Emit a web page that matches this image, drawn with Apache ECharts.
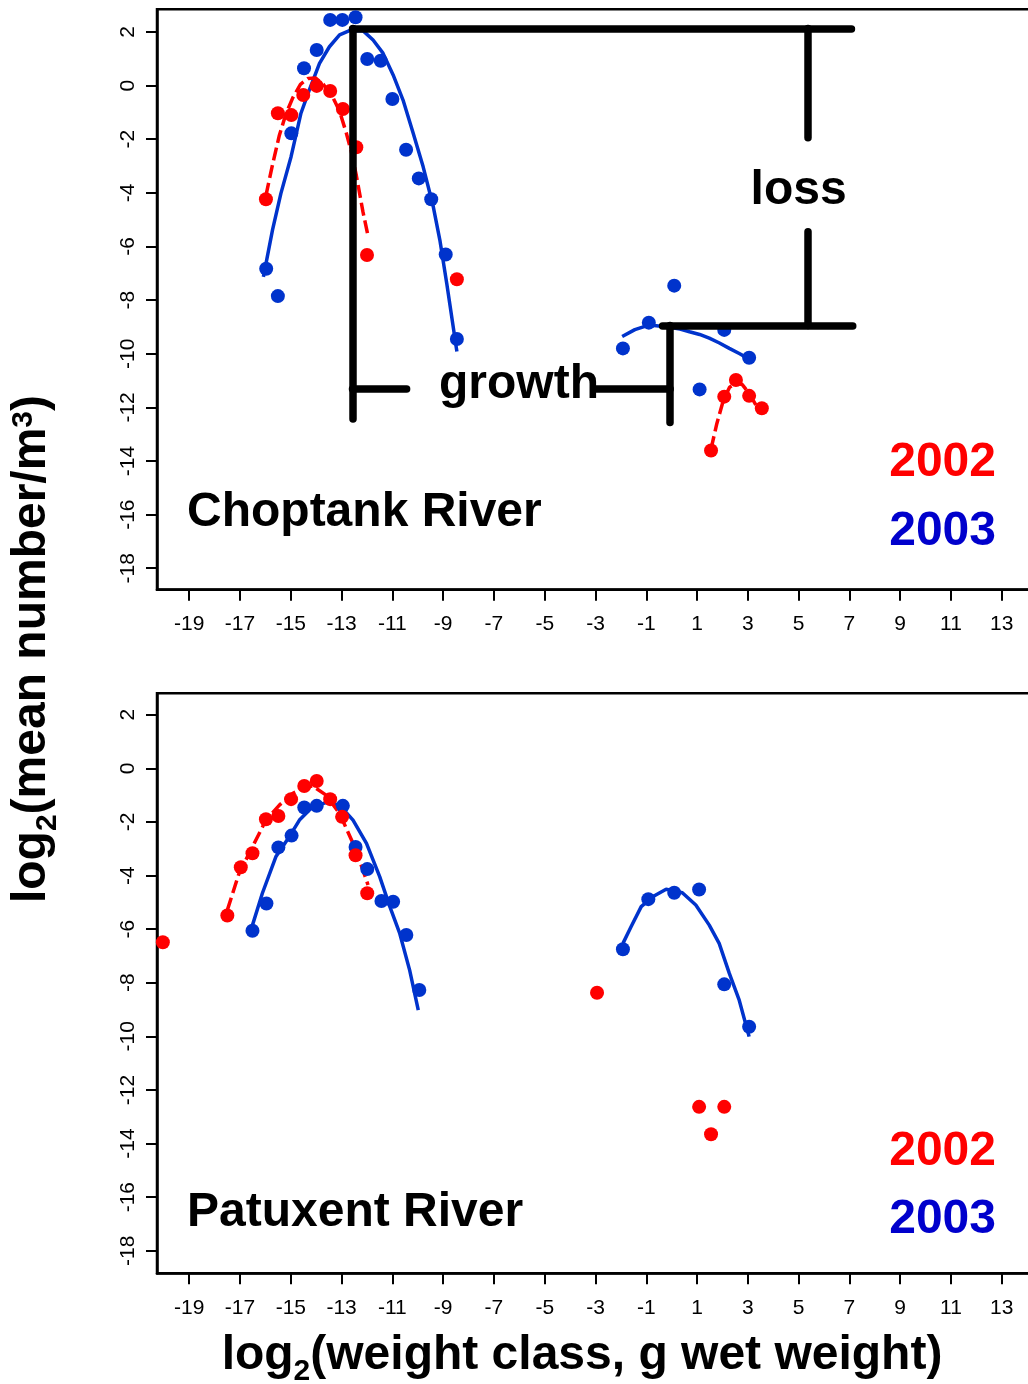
<!DOCTYPE html>
<html><head><meta charset="utf-8">
<script src="https://cdn.jsdelivr.net/npm/echarts@6/dist/echarts.min.js"></script>
<style>html,body{margin:0;padding:0;background:#fff}#c{width:1028px;height:1384px}</style>
</head><body><div id="c"></div>
<script>
// ---------- tick labels ----------
const xTicks = [-19,-17,-15,-13,-11,-9,-7,-5,-3,-1,1,3,5,7,9,11,13];
const yTicks = [-18,-16,-14,-12,-10,-8,-6,-4,-2,0,2];

// ---------- Choptank River (top panel) ----------
const chop2003Pts = [[-15.97,-6.83],[-15.51,-7.85],[-14.98,-1.78],[-14.48,0.65],[-13.98,1.33],[-13.45,2.45],[-12.97,2.45],[-12.45,2.55],[-11.99,0.99],[-11.46,0.93],[-11.0,-0.5],[-10.46,-2.39],[-9.96,-3.46],[-9.47,-4.24],[-8.9,-6.3],[-8.46,-9.45],
  [-1.92,-9.8],[-0.9,-8.84],[0.1,-7.46],[1.1,-11.33],[2.07,-9.11],[3.05,-10.15]];
const chop2003FitA = [[-16.08,-7.13],[-15.72,-5.38],[-15.39,-4.02],[-14.99,-2.65],[-14.6,-1.03],[-14.27,-0.16],[-13.87,0.83],[-13.48,1.45],[-13.08,1.89],[-12.69,2.05],[-12.16,2.05],[-11.76,1.70],[-11.37,1.21],[-10.97,0.40],[-10.58,-0.54],[-10.18,-1.78],[-9.79,-3.02],[-9.39,-4.51],[-9.13,-5.76],[-8.86,-7.37],[-8.46,-9.92]];
const chop2003FitB = [[-1.95,-9.36],[-1.45,-9.1],[-0.9,-8.93],[-0.22,-8.99],[0.33,-9.08],[0.7,-9.18],[1.1,-9.28],[1.48,-9.42],[1.88,-9.6],[2.27,-9.8],[2.68,-10.0],[3.05,-10.2]];
const chop2002Pts = [[-15.98,-4.24],[-15.51,-1.03],[-14.98,-1.1],[-14.51,-0.35],[-13.98,-0.01],[-13.45,-0.2],[-12.95,-0.87],[-12.42,-2.3],[-12.0,-6.32],[-8.46,-7.22],
  [1.55,-13.61],[2.07,-11.6],[2.53,-10.98],[3.05,-11.57],[3.55,-12.03]];
const chop2002FitA = [[-15.98,-4.1],[-15.72,-2.95],[-15.45,-1.85],[-15.19,-1.05],[-14.92,-0.45],[-14.62,0.05],[-14.32,0.27],[-14.02,0.28],[-13.72,0.05],[-13.34,-0.45],[-13.08,-0.95],[-12.82,-1.75],[-12.62,-2.45],[-12.42,-3.35],[-12.16,-4.7],[-11.96,-5.6]];
const chop2002FitB = [[1.55,-13.55],[1.78,-12.6],[2.03,-11.75],[2.28,-11.25],[2.53,-11.1],[2.78,-11.15],[3.03,-11.45],[3.28,-11.85],[3.43,-12.1]];

// ---------- Patuxent River (bottom panel) ----------
const pat2003Pts = [[-16.51,-6.06],[-15.96,-5.04],[-15.49,-2.95],[-14.97,-2.51],[-14.47,-1.46],[-13.98,-1.4],[-12.95,-1.4],[-12.45,-2.93],[-11.99,-3.76],[-11.43,-4.95],[-10.97,-4.98],[-10.45,-6.22],[-9.94,-8.27],
  [-1.92,-6.75],[-0.92,-4.88],[0.1,-4.64],[1.08,-4.52],[2.07,-8.06],[3.05,-9.64]];
const pat2003FitA = [[-16.51,-5.85],[-16.12,-4.66],[-15.59,-3.3],[-15.06,-2.55],[-14.66,-1.93],[-14.14,-1.43],[-13.61,-1.28],[-13.08,-1.37],[-12.55,-1.93],[-12.02,-2.8],[-11.5,-4.04],[-11.1,-5.16],[-10.71,-6.16],[-10.32,-7.53],[-9.98,-9.02]];
const pat2003FitB = [[-1.92,-6.53],[-1.6,-5.91],[-1.2,-5.16],[-0.75,-4.79],[-0.22,-4.51],[0.42,-4.64],[0.95,-5.1],[1.48,-5.85],[1.87,-6.53],[2.27,-7.65],[2.66,-8.65],[3.05,-10.01]];
const pat2002Pts = [[-20.04,-6.49],[-17.5,-5.49],[-16.97,-3.69],[-16.51,-3.17],[-15.98,-1.9],[-15.49,-1.78],[-14.99,-1.15],[-14.47,-0.66],[-13.98,-0.47],[-13.45,-1.15],[-12.98,-1.81],[-12.45,-3.24],[-11.99,-4.66],
  [-2.94,-8.37],[1.08,-12.63],[2.07,-12.63],[1.55,-13.65]];
const pat2002Fit = [[-17.5,-5.29],[-17.04,-3.92],[-16.51,-2.93],[-15.98,-1.93],[-15.45,-1.37],[-14.92,-0.93],[-14.47,-0.73],[-14.14,-0.66],[-13.61,-1.0],[-13.08,-1.68],[-12.55,-2.8],[-12.16,-3.79],[-11.96,-4.35]];

// ---------- growth / loss annotation segments (data coordinates, top panel) ----------
const annotSegments = [
  [[-12.57,2.13],[7.08,2.13]],
  [[-12.57,2.13],[-12.57,-12.43]],
  [[-12.57,-11.29],[-10.44,-11.29]],
  [[-2.98,-11.32],[-0.06,-11.32]],
  [[-0.06,-8.95],[-0.06,-12.56]],
  [[-0.36,-8.95],[7.13,-8.95]],
  [[5.35,2.13],[5.35,-1.94]],
  [[5.35,-5.45],[5.35,-8.95]]
];

const RED = '#ff0000', BLUE = '#0033cc', BLUE_TXT = '#0000cc';
const F = '"Liberation Sans", Arial, Helvetica, sans-serif';
const MID = 0.32;

const mctx = document.createElement('canvas').getContext('2d');
function measure(t, size) { mctx.font = 'bold ' + size + 'px ' + F; return mctx.measureText(t).width; }
function textEl(t, x, y, size, color, align, rotation) {
  return { type: 'text', x: x, y: y, rotation: rotation || 0, z: 100, silent: true,
    style: { text: t, fill: color, font: 'bold ' + size + 'px ' + F,
      align: align, verticalAlign: 'middle', textAlign: align, textVerticalAlign: 'middle' } };
}
function bl(text, x, baseline, size, color, align) { return textEl(text, x, baseline - MID * size, size, color, align, 0); }

const graphics = [];
graphics.push(bl('growth', 519, 400, 48, '#000', 'center'));
graphics.push(bl('loss', 798.6, 206, 48, '#000', 'center'));
graphics.push(bl('Choptank River', 187, 528, 48, '#000', 'left'));
graphics.push(bl('Patuxent River', 187, 1228, 48, '#000', 'left'));
graphics.push(bl('2002', 996, 478, 48, RED, 'right'));
graphics.push(bl('2003', 996, 547, 48, BLUE_TXT, 'right'));
graphics.push(bl('2002', 996, 1167, 48, RED, 'right'));
graphics.push(bl('2003', 996, 1235, 48, BLUE_TXT, 'right'));

// y-axis title (rotated, reading bottom to top)
(function () {
  const parts = [['log', 48, 0], ['2', 30, 10], ['(mean number/m', 48, 0], ['3', 30, -13.5], [')', 48, 0]];
  const baseX = 47, centerY = 649;
  let total = 0; parts.forEach(p => total += measure(p[0], p[1]));
  let y = centerY + total / 2;
  parts.forEach(p => {
    const w = measure(p[0], p[1]);
    graphics.push(textEl(p[0], baseX + p[2] - MID * p[1], y, p[1], '#000', 'left', Math.PI / 2));
    y -= w;
  });
})();
// x-axis title
(function () {
  const parts = [['log', 48, 0], ['2', 30, 10], ['(weight class, g wet weight)', 48, 0]];
  const baseY = 1371, centerX = 582;
  let total = 0; parts.forEach(p => total += measure(p[0], p[1]));
  let x = centerX - total / 2;
  parts.forEach(p => {
    graphics.push(textEl(p[0], x, baseY + p[2] - MID * p[1], p[1], '#000', 'left', 0));
    x += measure(p[0], p[1]);
  });
})();

function xAxisCfg(gi) {
  return { gridIndex: gi, type: 'value', min: -20.27, max: 14.73,
    axisLine: { show: true, onZero: false, lineStyle: { color: '#000', width: 2.5 } },
    axisTick: { show: true, length: 11, lineStyle: { color: '#000', width: 2 }, customValues: xTicks },
    axisLabel: { customValues: xTicks, margin: 24, fontSize: 21, color: '#000', fontFamily: F, formatter: v => String(v) },
    splitLine: { show: false } };
}
function yAxisCfg(gi, mn, mx) {
  return { gridIndex: gi, type: 'value', min: mn, max: mx,
    axisLine: { show: true, onZero: false, lineStyle: { color: '#000', width: 2.5 } },
    axisTick: { show: true, length: 11, lineStyle: { color: '#000', width: 2 }, customValues: yTicks },
    axisLabel: { customValues: yTicks, rotate: 90, margin: 18, fontSize: 21, color: '#000', fontFamily: F, formatter: v => String(v) },
    splitLine: { show: false } };
}
function fit(data, gi, color, dashed) {
  return { type: 'line', xAxisIndex: gi, yAxisIndex: gi, data: data, showSymbol: false, symbol: 'none', smooth: false,
    lineStyle: { color: color, width: 3.5, type: dashed ? [13, 5] : 'solid' }, z: 2, silent: true };
}
function pts(data, gi, color, z) {
  return { type: 'scatter', xAxisIndex: gi, yAxisIndex: gi, data: data, symbol: 'circle', symbolSize: 14,
    itemStyle: { color: color, opacity: 1 }, z: z, silent: true };
}

const option = {
  animation: false,
  backgroundColor: '#fff',
  grid: [
    { left: 157, top: 9.2, width: 888.7, height: 580.5, containLabel: false, outerBoundsMode: 'none', show: true, borderColor: '#000', borderWidth: 2.5, backgroundColor: 'transparent' },
    { left: 157, top: 693.3, width: 888.7, height: 580, containLabel: false, outerBoundsMode: 'none', show: true, borderColor: '#000', borderWidth: 2.5, backgroundColor: 'transparent' }
  ],
  xAxis: [xAxisCfg(0), xAxisCfg(1)],
  yAxis: [yAxisCfg(0, -18.8, 2.85), yAxisCfg(1, -18.84, 2.8)],
  series: [
    fit(chop2003FitA, 0, BLUE, false), fit(chop2003FitB, 0, BLUE, false),
    pts(chop2003Pts, 0, BLUE, 3),
    fit(chop2002FitA, 0, RED, true), fit(chop2002FitB, 0, RED, true),
    pts(chop2002Pts, 0, RED, 4),
    fit(pat2003FitA, 1, BLUE, false), fit(pat2003FitB, 1, BLUE, false),
    pts(pat2003Pts, 1, BLUE, 3),
    fit(pat2002Fit, 1, RED, true),
    pts(pat2002Pts, 1, RED, 4),
    { type: 'lines', coordinateSystem: 'cartesian2d', xAxisIndex: 0, yAxisIndex: 0, silent: true, z: 6,
      data: annotSegments.map(s => ({ coords: s })),
      lineStyle: { color: '#000', width: 7.5, opacity: 1, cap: 'round', curveness: 0 } }
  ],
  graphic: graphics
};
const chart = echarts.init(document.getElementById('c'), null, { renderer: 'canvas' });
chart.setOption(option);
</script>
</body></html>
